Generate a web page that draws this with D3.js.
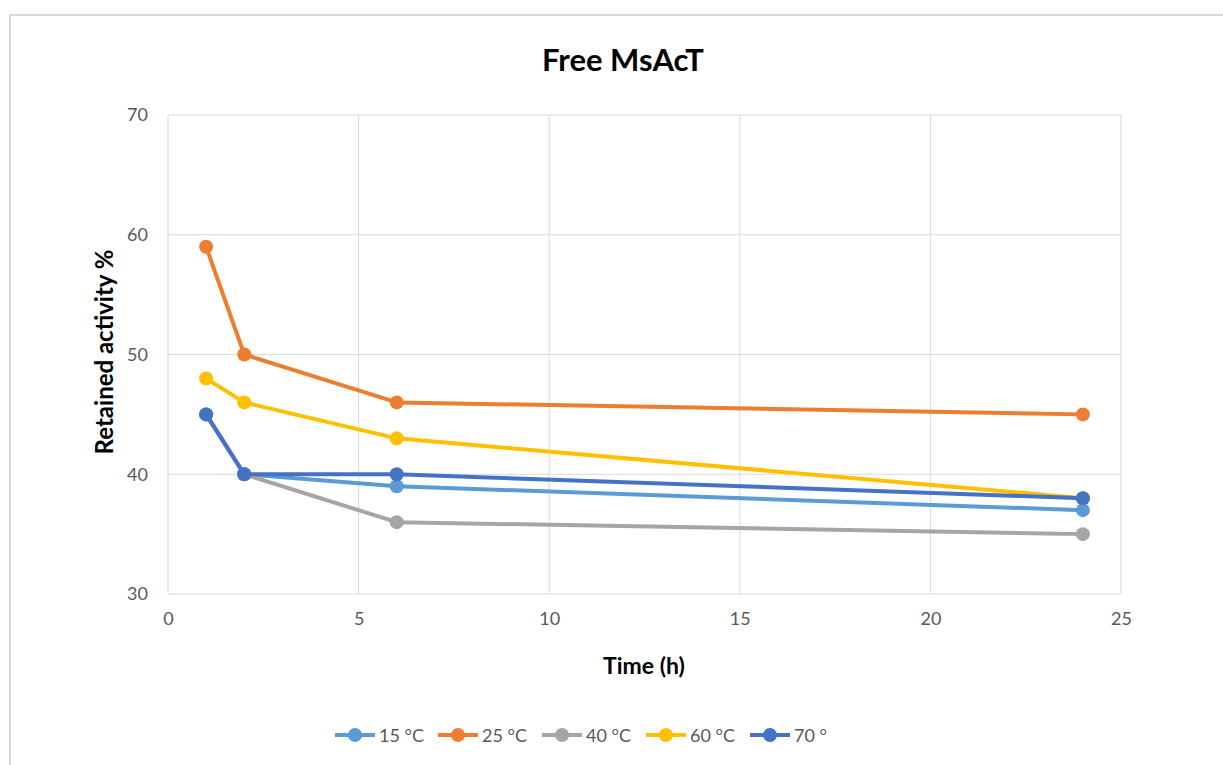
<!DOCTYPE html>
<html>
<head>
<meta charset="utf-8">
<script src="https://cdn.jsdelivr.net/npm/d3@7"></script>
<style>
  body { margin: 0; background: #fff; }
  text { font-family: Lato, "Open Sans", sans-serif; }
</style>
</head>
<body>
<svg id="chart" width="1223" height="765"></svg>
<script>
// ---- data
const hours = [1, 2, 6, 24]
const seriesNames = ["15 °C", "25 °C", "40 °C", "60 °C", "70 °"]
const seriesColors = ["#5B9BD5", "#ED7D31", "#A5A5A5", "#FFC000", "#4472C4"]
const t15 = [45, 40, 39, 37]
const t25 = [59, 50, 46, 45]
const t40 = [45, 40, 36, 35]
const t60 = [48, 46, 43, 38]
const t70 = [45, 40, 40, 38]
const xTicks = [0, 5, 10, 15, 20, 25]
const yTicks = [30, 40, 50, 60, 70]

const allSeries = [t15, t25, t40, t60, t70]

const svg = d3.select("#chart")

// outer chart frame (runs off the page right and bottom)
svg.append("rect")
  .attr("x", 10).attr("y", 15)
  .attr("width", 1240).attr("height", 800)
  .attr("fill", "#fff")
  .attr("stroke", "#d9d9d9").attr("stroke-width", 2)

const plot = { left: 168, right: 1121, top: 115, bottom: 594 }

const x = d3.scaleLinear().domain([0, 25]).range([plot.left, plot.right])
const y = d3.scaleLinear().domain([30, 70]).range([plot.bottom, plot.top])

// grid
svg.append("g")
  .selectAll("line.v")
  .data(xTicks)
  .join("line")
  .attr("x1", d => x(d)).attr("x2", d => x(d))
  .attr("y1", plot.top).attr("y2", plot.bottom)
  .attr("stroke", "#d9d9d9").attr("stroke-width", 1)

svg.append("g")
  .selectAll("line.h")
  .data(yTicks)
  .join("line")
  .attr("x1", plot.left).attr("x2", plot.right)
  .attr("y1", d => y(d)).attr("y2", d => y(d))
  .attr("stroke", "#d9d9d9").attr("stroke-width", 1)

// axes labels
const xAxis = svg.append("g")
  .attr("transform", `translate(0,${plot.bottom})`)
  .call(d3.axisBottom(x).tickValues(xTicks).tickSize(0).tickPadding(18))
xAxis.select(".domain").remove()
xAxis.selectAll("text").attr("font-size", 18).attr("fill", "#595959")
  .style("font-family", "Lato, 'Open Sans', sans-serif")

const yAxis = svg.append("g")
  .attr("transform", `translate(${plot.left},0)`)
  .call(d3.axisLeft(y).tickValues(yTicks).tickSize(0).tickPadding(20))
yAxis.select(".domain").remove()
yAxis.selectAll("text").attr("font-size", 18).attr("fill", "#595959")
  .style("font-family", "Lato, 'Open Sans', sans-serif")

// titles
svg.append("text")
  .attr("x", 623).attr("y", 71)
  .attr("text-anchor", "middle")
  .attr("font-size", 31).attr("font-weight", "bold").attr("fill", "#000")
  .text("Free MsAcT")

svg.append("text")
  .attr("x", 644).attr("y", 674)
  .attr("text-anchor", "middle")
  .attr("font-size", 23).attr("font-weight", "bold").attr("fill", "#000")
  .text("Time (h)")

svg.append("text")
  .attr("transform", `translate(113,352) rotate(-90)`)
  .attr("text-anchor", "middle")
  .attr("font-size", 24).attr("font-weight", "bold").attr("fill", "#000")
  .text("Retained activity %")

// series
const line = d3.line().x((d, i) => x(hours[i])).y(d => y(d))

allSeries.forEach((vals, s) => {
  const g = svg.append("g")
  g.append("path")
    .datum(vals)
    .attr("d", line)
    .attr("fill", "none")
    .attr("stroke", seriesColors[s])
    .attr("stroke-width", 4)
    .attr("stroke-linejoin", "round")
  g.selectAll("circle")
    .data(vals)
    .join("circle")
    .attr("cx", (d, i) => x(hours[i]))
    .attr("cy", d => y(d))
    .attr("r", 7)
    .attr("fill", seriesColors[s])
})

// legend
const legendX = [335, 438, 542, 646, 750]
const legend = svg.append("g").attr("transform", "translate(0,735)")
seriesNames.forEach((name, i) => {
  const item = legend.append("g").attr("transform", `translate(${legendX[i]},0)`)
  item.append("line")
    .attr("x1", 0).attr("x2", 40).attr("y1", 0).attr("y2", 0)
    .attr("stroke", seriesColors[i]).attr("stroke-width", 4)
  item.append("circle").attr("cx", 20).attr("cy", 0).attr("r", 7).attr("fill", seriesColors[i])
  item.append("text")
    .attr("x", 44).attr("y", 6.5)
    .attr("font-size", 18).attr("fill", "#595959")
    .text(name)
})
</script>
</body>
</html>
